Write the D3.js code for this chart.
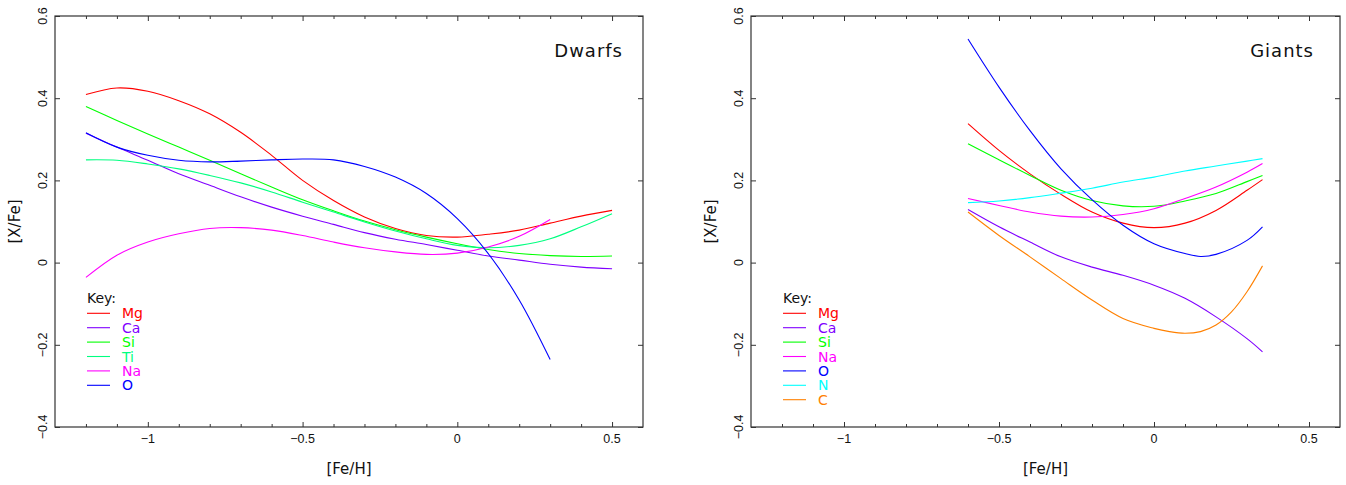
<!DOCTYPE html>
<html><head><meta charset="utf-8">
<script src="https://cdn.jsdelivr.net/npm/d3@7"></script>
<style>body{margin:0;background:#fff} svg{display:block}</style>
</head><body>
<svg id="c" width="1346" height="485"></svg>
<script>
// ---------- DATA ----------
const xTicksMajor = [-1, -0.5, 0, 0.5];
const xTickLabels = ["\u22121", "\u22120.5", "0", "0.5"];
const xTicksMinor = [-1.2,-1.1,-0.9,-0.8,-0.7,-0.6,-0.4,-0.3,-0.2,-0.1,0.1,0.2,0.3,0.4];
const yTicks = [-0.4, -0.2, 0, 0.2, 0.4, 0.6];
const yTickLabels = ["\u22120.4", "\u22120.2", "0", "0.2", "0.4", "0.6"];

// Dwarfs
const dwarfX   = [-1.2,-1.1,-1.0,-0.9,-0.8,-0.7,-0.6,-0.5,-0.4,-0.3,-0.2,-0.1,0.0,0.1,0.2,0.3,0.4,0.5];
const dwarfMg  = [0.409,0.425,0.417,0.394,0.362,0.317,0.261,0.200,0.151,0.111,0.083,0.066,0.062,0.069,0.079,0.096,0.113,0.127];
const dwarfCa  = [0.315,0.281,0.249,0.216,0.188,0.160,0.135,0.113,0.093,0.073,0.057,0.044,0.030,0.016,0.006,-0.004,-0.011,-0.015];
const dwarfSi  = [0.380,0.346,0.313,0.281,0.249,0.216,0.184,0.153,0.126,0.101,0.080,0.062,0.046,0.032,0.022,0.017,0.015,0.016];
const dwarfTi  = [0.250,0.249,0.240,0.228,0.212,0.194,0.172,0.147,0.123,0.099,0.077,0.058,0.042,0.036,0.042,0.058,0.087,0.119];
const dwarfXs  = [-1.2,-1.1,-1.0,-0.9,-0.8,-0.7,-0.6,-0.5,-0.4,-0.3,-0.2,-0.1,0.0,0.1,0.2,0.3];
const dwarfNa  = [-0.036,0.018,0.050,0.070,0.083,0.085,0.079,0.066,0.050,0.036,0.026,0.020,0.023,0.038,0.064,0.105];
const dwarfO   = [0.316,0.281,0.261,0.249,0.245,0.247,0.250,0.252,0.250,0.234,0.208,0.168,0.107,0.022,-0.091,-0.236];

// Giants
const giantX   = [-0.6,-0.5,-0.4,-0.3,-0.2,-0.1,0.0,0.1,0.2,0.3,0.35];
const giantMg  = [0.338,0.273,0.216,0.166,0.123,0.096,0.085,0.096,0.127,0.176,0.202];
const giantCa  = [0.129,0.087,0.050,0.014,-0.011,-0.031,-0.055,-0.087,-0.132,-0.185,-0.217];
const giantSi  = [0.289,0.250,0.212,0.176,0.151,0.138,0.137,0.150,0.168,0.197,0.212];
const giantNa  = [0.156,0.139,0.123,0.113,0.111,0.117,0.131,0.156,0.184,0.220,0.241];
const giantOX  = [-0.6,-0.5,-0.4,-0.3,-0.2,-0.1,0.0,0.1,0.15,0.2,0.3,0.35];
const giantO   = [0.544,0.427,0.321,0.228,0.153,0.091,0.046,0.022,0.015,0.020,0.054,0.087];
const giantN   = [0.146,0.150,0.158,0.169,0.181,0.196,0.208,0.223,0.235,0.247,0.253];
const giantCX  = [-0.6,-0.5,-0.4,-0.3,-0.2,-0.1,0.0,0.05,0.1,0.15,0.2,0.25,0.3,0.35];
const giantC   = [0.123,0.066,0.014,-0.039,-0.091,-0.136,-0.160,-0.168,-0.172,-0.168,-0.152,-0.120,-0.071,-0.008];

const colors = {Mg:"#ff0000", Ca:"#8000ff", Si:"#00ff00", Ti:"#00ff80", Na:"#ff00ff", O:"#0000ff", N:"#00ffff", C:"#ff8000"};

const panels = [
  {L:55, R:643, T:16, B:427, title:"Dwarfs", titleX:623, legendX:87,
   series:[["Mg",dwarfX,dwarfMg],["Ca",dwarfX,dwarfCa],["Si",dwarfX,dwarfSi],["Ti",dwarfX,dwarfTi],["Na",dwarfXs,dwarfNa],["O",dwarfXs,dwarfO]]},
  {L:751, R:1340, T:16, B:427, title:"Giants", titleX:1314, legendX:783,
   series:[["Mg",giantX,giantMg],["Ca",giantX,giantCa],["Si",giantX,giantSi],["Na",giantX,giantNa],["O",giantOX,giantO],["N",giantX,giantN],["C",giantCX,giantC]]}
];

const svg = d3.select("#c");
const frameColor = "#333";
const font = "'Liberation Sans', Arial, sans-serif";
const tfont = "'DejaVu Sans', sans-serif";

panels.forEach(p => {
  const x = d3.scaleLinear().domain([-1.3, 0.6]).range([p.L, p.R]);
  const y = d3.scaleLinear().domain([-0.4, 0.6]).range([p.B, p.T]);
  const g = svg.append("g");

  // curves
  const line = d3.line().x(d => x(d[0])).y(d => y(d[1])).curve(d3.curveCatmullRom.alpha(0.5));
  p.series.forEach(([name, xs, ys]) => {
    g.append("path").datum(xs.map((v,i)=>[v, ys[i]]))
      .attr("d", line).attr("fill","none").attr("stroke", colors[name]).attr("stroke-width", 1.1);
  });

  // frame
  g.append("rect").attr("x", p.L).attr("y", p.T).attr("width", p.R-p.L).attr("height", p.B-p.T)
    .attr("fill","none").attr("stroke", frameColor).attr("stroke-width", 1.2);

  // axes ticks (inward)
  const mk = (axis, tr) => {
    const a = g.append("g").attr("transform", tr).call(axis);
    a.select(".domain").remove();
    a.selectAll("line").attr("stroke", frameColor);
    a.selectAll("text").remove();
  };
  mk(d3.axisBottom(x).tickValues(xTicksMajor).tickSize(-5), `translate(0,${p.B})`);
  mk(d3.axisBottom(x).tickValues(xTicksMinor).tickSize(-3), `translate(0,${p.B})`);
  mk(d3.axisTop(x).tickValues(xTicksMajor).tickSize(-5), `translate(0,${p.T})`);
  mk(d3.axisTop(x).tickValues(xTicksMinor).tickSize(-3), `translate(0,${p.T})`);
  mk(d3.axisLeft(y).tickValues(yTicks).tickSize(-5), `translate(${p.L},0)`);
  mk(d3.axisRight(y).tickValues(yTicks).tickSize(-5), `translate(${p.R},0)`);

  // x tick labels
  xTicksMajor.forEach((v,i) => {
    g.append("text").attr("x", x(v)).attr("y", p.B + 16).attr("text-anchor","middle")
      .attr("font-family", font).attr("font-size", 12.5).attr("fill","#111").text(xTickLabels[i]);
  });
  // y tick labels (rotated)
  yTicks.forEach((v,i) => {
    const tx = p.L - 8, ty = y(v);
    g.append("text").attr("x", tx).attr("y", ty).attr("text-anchor","middle")
      .attr("transform", `rotate(-90,${tx},${ty})`)
      .attr("font-family", font).attr("font-size", 12.5).attr("fill","#111").text(yTickLabels[i]);
  });

  // axis titles
  g.append("text").attr("x", (p.L+p.R)/2).attr("y", 474).attr("text-anchor","middle")
    .attr("font-family", tfont).attr("font-size", 15).attr("fill","#111").text("[Fe/H]");
  const ax = p.L - 35, ay = (p.T+p.B)/2;
  g.append("text").attr("x", ax).attr("y", ay).attr("text-anchor","middle")
    .attr("transform", `rotate(-90,${ax},${ay})`)
    .attr("font-family", tfont).attr("font-size", 15).attr("fill","#111").text("[X/Fe]");

  // panel title
  g.append("text").attr("x", p.titleX).attr("y", 57).attr("text-anchor","end")
    .attr("font-family", tfont).attr("font-size", 18).attr("letter-spacing", 1).attr("fill","#111").text(p.title);

  // legend
  g.append("text").attr("x", p.legendX).attr("y", 303).attr("font-family", tfont)
    .attr("font-size", 14).attr("fill","#111").text("Key:");
  p.series.forEach(([name], i) => {
    const ly = 313.3 + i*14.4;
    g.append("line").attr("x1", p.legendX).attr("x2", p.legendX+23).attr("y1", ly).attr("y2", ly)
      .attr("stroke", colors[name]).attr("stroke-width", 1.1);
    g.append("text").attr("x", p.legendX+35).attr("y", ly+5).attr("font-family", tfont)
      .attr("font-size", 14).attr("fill", colors[name]).text(name);
  });
});
</script>
</body></html>
